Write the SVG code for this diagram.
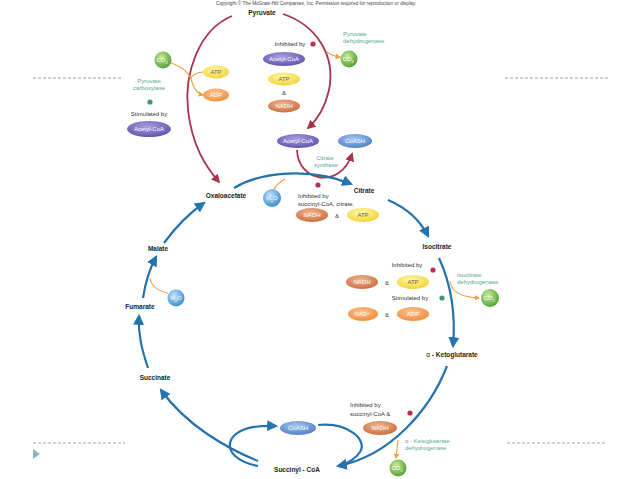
<svg xmlns="http://www.w3.org/2000/svg" width="638" height="479" viewBox="0 0 638 479">
<defs>
<radialGradient id="gPurple" cx="0.45" cy="0.35" r="0.7"><stop offset="0" stop-color="#a99de0"/><stop offset="1" stop-color="#5c4fa8"/></radialGradient>
<radialGradient id="gYellow" cx="0.45" cy="0.35" r="0.7"><stop offset="0" stop-color="#fff8b0"/><stop offset="1" stop-color="#f2d028"/></radialGradient>
<radialGradient id="gOrange" cx="0.45" cy="0.35" r="0.7"><stop offset="0" stop-color="#f0b890"/><stop offset="1" stop-color="#c8673a"/></radialGradient>
<radialGradient id="gOrange2" cx="0.45" cy="0.35" r="0.7"><stop offset="0" stop-color="#ffc590"/><stop offset="1" stop-color="#ec8a3c"/></radialGradient>
<radialGradient id="gBlue" cx="0.45" cy="0.35" r="0.7"><stop offset="0" stop-color="#a6c6f0"/><stop offset="1" stop-color="#4a7cc4"/></radialGradient>
<radialGradient id="gWater" cx="0.4" cy="0.35" r="0.7"><stop offset="0" stop-color="#c4e4fa"/><stop offset="1" stop-color="#2f88cc"/></radialGradient>
<radialGradient id="gGreen" cx="0.4" cy="0.35" r="0.7"><stop offset="0" stop-color="#c8ec98"/><stop offset="1" stop-color="#4f9a30"/></radialGradient>
<marker id="aBlue" viewBox="0 0 10 10" refX="8" refY="5" markerWidth="5" markerHeight="5" orient="auto"><path d="M0 0 L10 5 L0 10 Z" fill="#2473ad"/></marker>
<marker id="aRed" viewBox="0 0 10 10" refX="8" refY="5" markerWidth="5" markerHeight="5" orient="auto"><path d="M0 0 L10 5 L0 10 Z" fill="#a8334a"/></marker>
<marker id="aOr" viewBox="0 0 10 10" refX="8" refY="5" markerWidth="5" markerHeight="5" orient="auto"><path d="M0 0 L10 5 L0 10 Z" fill="#e9a040"/></marker>
<style>
text{font-family:"Liberation Sans",Arial,sans-serif;}
.lbl{font-size:6.5px;font-weight:bold;fill:#222;text-anchor:middle;}
.sm{font-size:6px;fill:#333;}
.grn{font-size:6px;fill:#5aa88c;}
.et{font-size:6px;fill:#fff;text-anchor:middle;}
.ety{font-size:6px;fill:#6a5a30;text-anchor:middle;}
.blue{fill:none;stroke:#2473ad;stroke-width:2.2;marker-end:url(#aBlue);}
.red{fill:none;stroke:#a8334a;stroke-width:1.8;marker-end:url(#aRed);}
.or{fill:none;stroke:#e9a040;stroke-width:1.1;}
.ora{fill:none;stroke:#e9a040;stroke-width:1.1;marker-end:url(#aOr);}
.dash{stroke:#9aa6b0;stroke-width:1;stroke-dasharray:3,2;}
.rdot{fill:#b8334a;}
.gdot{fill:#3f9a70;}
</style>
</defs>
<rect width="638" height="479" fill="#fff"/>
<text x="316" y="5" font-size="4.8" fill="#444" text-anchor="middle">Copyright © The McGraw-Hill Companies, Inc. Permission required for reproduction or display.</text>
<line class="dash" x1="33" y1="78" x2="122" y2="78"/>
<line class="dash" x1="505" y1="78" x2="608" y2="78"/>
<line class="dash" x1="33" y1="443" x2="125" y2="443"/>
<line class="dash" x1="507" y1="443" x2="607" y2="443"/>
<path d="M33 449 L40 454 L33 459 Z" fill="#8fb0cc"/>
<g id="connectors">
<path class="red" d="M232 16 C198 30 184 75 188 110 C192 145 205 166 219 182"/>
<path class="red" d="M283 14 C316 25 336 55 329 90 C325 108 317 120 308 128"/>
<path class="ora" d="M327 52 Q332 56 340 57"/>
<path class="ora" d="M171 63 Q189 69 192 82 Q195 93 203 95"/>
<path class="or" d="M203 72 Q193 73 190 79"/>
<path class="red" d="M297 150 C298 182 340 190 352 154"/>
<path class="blue" d="M234 188 C260 172 310 167 351 184"/>
<path class="or" d="M285 179 Q276 184 274 190"/>
<path class="blue" d="M388 200 Q416 212 428 236"/>
<path class="blue" d="M439 258 C450 282 456 312 453 346"/>
<path class="ora" d="M450 281 Q452 297 479 298"/>
<path class="blue" d="M447 366 C430 410 390 456 338 466"/>
<path class="ora" d="M398 440 L396 458"/>
<path fill="none" stroke="#2473ad" stroke-width="2.2" d="M318 425 C348 422 368 440 360 452 C355 460 347 463 342 465"/>
<path class="blue" d="M258 466 C238 462 226 452 231 440 C237 429 252 425 276 426"/>
<path class="blue" d="M258 461 C226 448 186 425 161 390"/>
<path class="blue" d="M148 368 C142 350 138 335 139 316"/>
<path class="blue" d="M143 298 C145 285 149 270 156 257"/>
<path class="or" d="M168 293 Q152 290 150 278"/>
<path class="blue" d="M164 243 C175 228 188 214 204 203"/>
</g>
<g id="pyruvate"><text class="lbl" x="262" y="15" font-size="7">Pyruvate</text></g>
<g id="pdh-reg">
<text class="sm" x="290" y="46" text-anchor="middle">Inhibited by</text>
<circle class="rdot" cx="313" cy="44" r="2.6"/>
<ellipse cx="284" cy="59" rx="21" ry="7" fill="url(#gPurple)"/><text class="et" x="284" y="61">Acetyl-CoA</text>
<ellipse cx="284" cy="79" rx="16" ry="6.5" fill="url(#gYellow)"/><text class="ety" x="284" y="81">ATP</text>
<text class="sm" x="284" y="95" text-anchor="middle">&amp;</text>
<ellipse cx="284" cy="106" rx="16" ry="6.5" fill="url(#gOrange)"/><text class="et" x="284" y="108">NADH</text>
</g>
<g id="pdh"><text class="grn" x="343" y="36">Pyruvate</text><text class="grn" x="343" y="43">dehydrogenase</text></g>
<g id="co2-pdh"><circle cx="349" cy="59" r="8.5" fill="url(#gGreen)"/><text class="et" x="348" y="61">CO<tspan font-size="4" dy="1.5">2</tspan></text></g>
<g id="co2-pc"><circle cx="163" cy="60" r="8.5" fill="url(#gGreen)"/><text class="et" x="162" y="62">CO<tspan font-size="4" dy="1.5">2</tspan></text></g>
<g id="atp-pc"><ellipse cx="216" cy="72" rx="13" ry="6.5" fill="url(#gYellow)"/><text class="ety" x="216" y="74">ATP</text></g>
<g id="adp-pc"><ellipse cx="216" cy="95" rx="13" ry="6.5" fill="url(#gOrange2)"/><text class="et" x="216" y="97">ADP</text></g>
<g id="pc">
<text class="grn" x="149" y="83" text-anchor="middle">Pyruvate</text><text class="grn" x="149" y="90" text-anchor="middle">carboxylase</text>
<circle class="gdot" cx="150" cy="102" r="2.6"/>
<text class="sm" x="149" y="116" text-anchor="middle">Stimulated by</text>
<ellipse cx="149" cy="129" rx="22" ry="8" fill="url(#gPurple)"/><text class="et" x="149" y="131">Acetyl-CoA</text>
</g>
<g id="acetylcoa"><ellipse cx="298" cy="141" rx="21" ry="7" fill="url(#gPurple)"/><text class="et" x="298" y="143">Acetyl-CoA</text></g>
<g id="coash-top"><ellipse cx="355" cy="141" rx="17" ry="7" fill="url(#gBlue)"/><text class="et" x="355" y="143">CoASH</text></g>
<g id="cs"><text class="grn" x="325" y="160" text-anchor="middle">Citrate</text><text class="grn" x="326" y="167" text-anchor="middle">synthase</text></g>
<g id="oxaloacetate"><text class="lbl" x="226" y="198">Oxaloacetate</text></g>
<g id="h2o-cs"><circle cx="272" cy="198" r="9" fill="url(#gWater)"/><text class="et" x="272" y="200">H<tspan font-size="4" dy="1.5">2</tspan><tspan dy="-1.5">O</tspan></text></g>
<g id="cs-reg">
<circle class="rdot" cx="318" cy="185" r="2.6"/>
<text class="sm" x="298" y="198">Inhibited by</text>
<text class="sm" x="298" y="206">succinyl-CoA, citrate,</text>
<ellipse cx="312" cy="215" rx="16" ry="7" fill="url(#gOrange)"/><text class="et" x="312" y="217">NADH</text>
<text class="sm" x="337" y="218" text-anchor="middle">&amp;</text>
<ellipse cx="363" cy="215" rx="16" ry="7" fill="url(#gYellow)"/><text class="ety" x="363" y="217">ATP</text>
</g>
<g id="citrate"><text class="lbl" x="364" y="193">Citrate</text></g>
<g id="isocitrate"><text class="lbl" x="437" y="249">Isocitrate</text></g>
<g id="idh-reg">
<text class="sm" x="407" y="267" text-anchor="middle">Inhibited by</text>
<circle class="rdot" cx="433" cy="270" r="2.6"/>
<ellipse cx="362" cy="282" rx="16" ry="7" fill="url(#gOrange)"/><text class="et" x="362" y="284">NADH</text>
<text class="sm" x="387" y="285" text-anchor="middle">&amp;</text>
<ellipse cx="413" cy="282" rx="16" ry="7" fill="url(#gYellow)"/><text class="ety" x="413" y="284">ATP</text>
<text class="sm" x="410" y="300" text-anchor="middle">Stimulated by</text>
<circle class="gdot" cx="442" cy="298" r="2.6"/>
<ellipse cx="363" cy="314" rx="15" ry="7" fill="url(#gOrange2)"/><text class="et" x="362" y="316">NAD<tspan font-size="4" dy="-2">+</tspan></text>
<text class="sm" x="387" y="317" text-anchor="middle">&amp;</text>
<ellipse cx="413" cy="314" rx="16" ry="7" fill="url(#gOrange2)"/><text class="et" x="413" y="316">ADP</text>
</g>
<g id="idh"><text class="grn" x="457" y="277">Isocitrate</text><text class="grn" x="457" y="284">dehydrogenase</text></g>
<g id="co2-idh"><circle cx="490" cy="298" r="9" fill="url(#gGreen)"/><text class="et" x="489" y="300">CO<tspan font-size="4" dy="1.5">2</tspan></text></g>
<g id="akg"><text class="lbl" x="452" y="357"><tspan font-weight="normal">α</tspan> - Ketoglutarate</text></g>
<g id="akgdh-reg">
<text class="sm" x="350" y="407">Inhibited by</text>
<text class="sm" x="350" y="416">succinyl-CoA &amp;</text>
<circle class="rdot" cx="410" cy="413" r="2.6"/>
<ellipse cx="380" cy="428" rx="17" ry="7" fill="url(#gOrange)"/><text class="et" x="380" y="430">NADH</text>
</g>
<g id="akgdh"><text class="grn" x="405" y="443">α - Ketoglutarate</text><text class="grn" x="405" y="450">dehydrogenase</text></g>
<g id="co2-akgdh"><circle cx="398" cy="468" r="8.5" fill="url(#gGreen)"/><text class="et" x="397" y="470">CO<tspan font-size="4" dy="1.5">2</tspan></text></g>
<g id="coash-bottom"><ellipse cx="298" cy="428" rx="18" ry="7" fill="url(#gBlue)"/><text class="et" x="298" y="430">CoASH</text></g>
<g id="succinylcoa"><text class="lbl" x="297" y="472">Succinyl - CoA</text></g>
<g id="succinate"><text class="lbl" x="155" y="380">Succinate</text></g>
<g id="fumarate"><text class="lbl" x="140" y="309">Fumarate</text></g>
<g id="h2o-fum"><circle cx="176" cy="298" r="8.5" fill="url(#gWater)"/><text class="et" x="176" y="300">H<tspan font-size="4" dy="1.5">2</tspan><tspan dy="-1.5">O</tspan></text></g>
<g id="malate"><text class="lbl" x="158" y="251">Malate</text></g>
</svg>
